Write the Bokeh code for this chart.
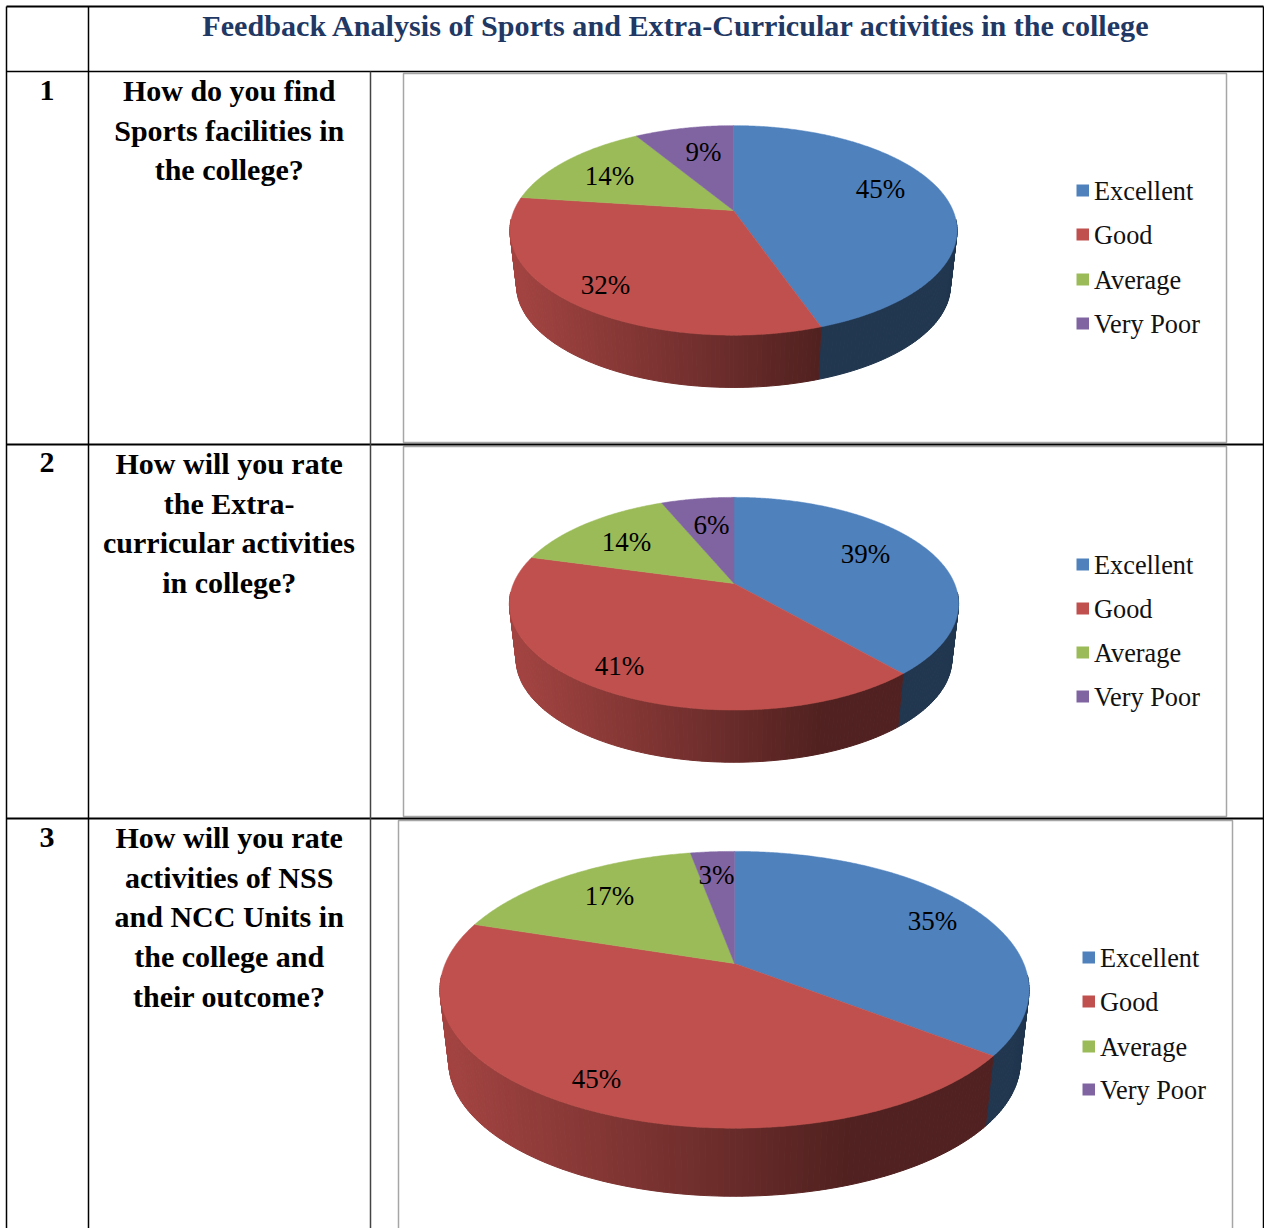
import math
from bokeh.plotting import figure
from bokeh.models import Range1d
from bokeh.core.properties import value
from bokeh.embed import file_html
from bokeh.resources import INLINE

# ---- data ----
title = "Feedback Analysis of Sports and Extra-Curricular activities in the college"
categories = ["Excellent", "Good", "Average", "Very Poor"]
values_q1 = [44.7, 32.4, 14.3, 8.6]
values_q2 = [38.6, 40.7, 14.4, 6.3]
values_q3 = [35.49, 44.51, 17.1, 2.9]
question_1 = ["How do you find", "Sports facilities in", "the college?"]
question_2 = ["How will you rate", "the Extra-", "curricular activities", "in college?"]
question_3 = ["How will you rate", "activities of NSS", "and NCC Units in", "the college and", "their outcome?"]

# ---- style / layout ----
colors = ["#4F81BD", "#C0504D", "#9BBB59", "#8064A2"]
SERIF = value("Liberation Serif")
charts = [
    dict(values=values_q1, cx=733, apex=210, R=219.5, A=101, d=56,
         frame=(403, 73, 1226, 442), leg_x=1076, leg_ys=[190, 234, 279, 323],
         label_pos=[(880, 188), (605, 284), (609, 175), (703, 151)]),
    dict(values=values_q2, cx=733.5, apex=583, R=220.5, A=102.5, d=56,
         frame=(403, 446, 1226, 816), leg_x=1076, leg_ys=[564, 608, 652, 696],
         label_pos=[(865, 553), (619, 665), (626, 541), (711, 524)]),
    dict(values=values_q3, cx=734, apex=963, R=289.2, A=133.4, d=73,
         frame=(398, 820, 1232, 1240), leg_x=1082, leg_ys=[957, 1001, 1046, 1089],
         label_pos=[(932, 920), (596, 1078), (609, 895), (716, 874)]),
]
K = 0.19      # perspective strength
S = 0.97      # lower rim scale

p = figure(width=1264, height=1228, x_range=Range1d(0, 1264), y_range=Range1d(1228, 0),
           output_backend="svg", toolbar_location=None, min_border=0,
           margin=(0, 0, 0, 0), background_fill_color="white", border_fill_color="white")
p.axis.visible = False
p.grid.visible = False
p.outline_line_color = None


def rim(c, deg, lower=False):
    t = math.radians(deg)
    u, v = math.sin(t), math.cos(t)
    den = 1 + K * v
    dx, dy = c["R"] * u / den, -c["A"] * v / den
    if lower:
        return c["cx"] + S * dx, c["apex"] + c["d"] + S * dy
    return c["cx"] + dx, c["apex"] + dy


def shade(hex_color, x, left, width):
    t = min((x - left) / width, 0.7) / 0.7
    f = 0.85 + (0.42 - 0.85) * t
    r, g, b = (int(hex_color[i:i + 2], 16) for i in (1, 3, 5))
    return "#%02x%02x%02x" % (int(r * f), int(g * f), int(b * f))


for c in charts:
    x0, y0, x1, y1 = c["frame"]
    p.quad(left=x0, right=x1, top=y0, bottom=y1, fill_color="white",
           line_color="#A6A6A6", line_width=1.5)

    total = sum(c["values"])
    edges = [0]
    for v in c["values"]:
        edges.append(edges[-1] + v / total * 360)

    left = c["cx"] - c["R"] * 1.0
    width = 2 * c["R"]
    xs, ys, fills = [], [], []
    for i, col in enumerate(colors):
        a, b = max(edges[i], 95), min(edges[i + 1], 265)
        deg = a
        while deg < b:
            nxt = min(deg + 1.0, b)
            ax, ay = rim(c, deg)
            bx, by = rim(c, nxt)
            dx, dy = rim(c, deg, True)
            ex, ey = rim(c, nxt, True)
            xs.append([ax, bx, ex, dx])
            ys.append([ay, by, ey, dy])
            fills.append(shade(col, (ax + bx) / 2, left, width))
            deg = nxt
    p.patches(xs, ys, fill_color=fills, line_color=fills, line_width=1)

    for i, col in enumerate(colors):
        n = max(int(edges[i + 1] - edges[i]) * 2, 4)
        pts = [rim(c, edges[i] + (edges[i + 1] - edges[i]) * j / n) for j in range(n + 1)]
        px = [c["cx"]] + [q[0] for q in pts]
        py = [c["apex"]] + [q[1] for q in pts]
        p.patch(px, py, fill_color=col, line_color=col, line_width=0.5)

    labels = ["%d%%" % round(v) for v in c["values"]]
    p.text([q[0] for q in c["label_pos"]], [q[1] for q in c["label_pos"]], text=labels,
           text_font=SERIF, text_font_size="27px", text_color="black",
           text_align="center", text_baseline="middle")

    lx = c["leg_x"]
    p.quad(left=[lx] * 4, right=[lx + 12.5] * 4,
           top=[y - 6 for y in c["leg_ys"]], bottom=[y + 6 for y in c["leg_ys"]],
           fill_color=colors, line_color=None)
    p.text([lx + 17.5] * 4, [y + 1 for y in c["leg_ys"]], text=categories,
           text_font=SERIF, text_font_size="26.3px", text_color="#111111",
           text_align="left", text_baseline="middle")

# table rules
p.segment(x0=[6, 6, 6, 6], x1=[1263] * 4, y0=[6, 71, 444, 818], y1=[6, 71, 444, 818],
          line_color="black", line_width=[2, 1.5, 2, 2])
p.segment(x0=[6, 88, 1263], x1=[6, 88, 1263], y0=[6, 6, 6], y1=[1228] * 3,
          line_color="black", line_width=1.5)
p.segment(x0=[370], x1=[370], y0=[71], y1=[1228], line_color="#444444", line_width=1.5)

# texts
p.text([676], [25], text=[title], text_font=SERIF, text_font_style="bold",
       text_font_size="30.15px", text_color="#1F3864", text_align="center", text_baseline="middle")
for num, y in (("1", 90), ("2", 462), ("3", 837)):
    p.text([46.5], [y], text=[num], text_font=SERIF, text_font_style="bold",
           text_font_size="30px", text_color="black", text_align="center", text_baseline="middle")
for lines, ytop in ((question_1, 90), (question_2, 463), (question_3, 837)):
    ysq = [ytop + 39.7 * i for i in range(len(lines))]
    p.text([228.7] * len(lines), ysq, text=lines, text_font=SERIF, text_font_style="bold",
           text_font_size="30px", text_color="black", text_align="center", text_baseline="middle")

open("out.html", "w").write(file_html(p, INLINE))
